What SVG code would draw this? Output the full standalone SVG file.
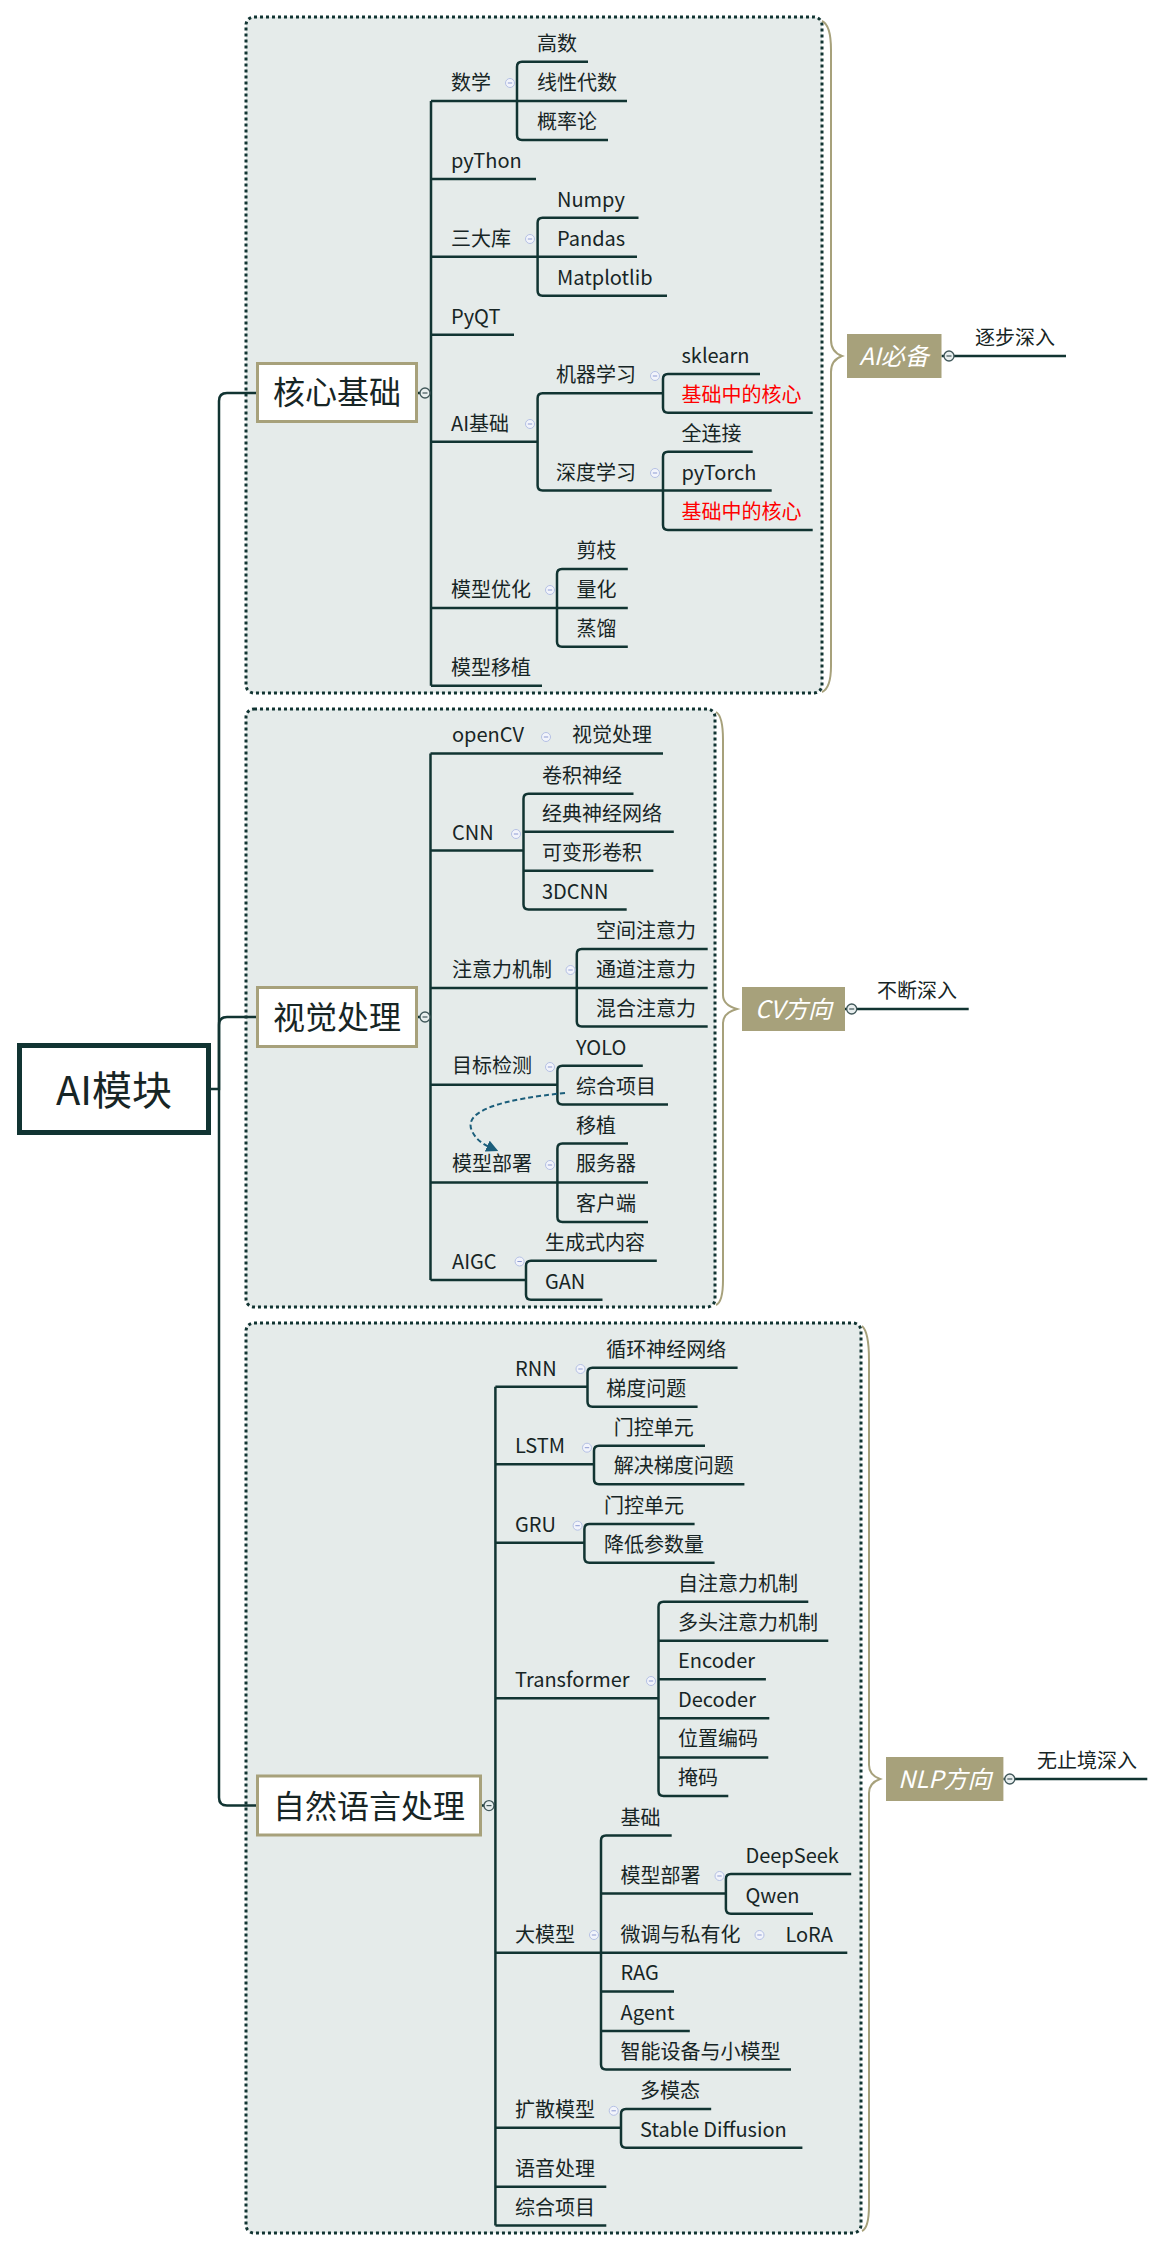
<svg xmlns="http://www.w3.org/2000/svg" xmlns:xlink="http://www.w3.org/1999/xlink" width="1165" height="2252" viewBox="0 0 1165 2252">
  <style>
    .area { fill: #e5ebea; stroke: #113432; stroke-width: 3; stroke-dasharray: 3 3; }
    .ln { fill: none; stroke: #113432; stroke-width: 2.5; }
    .brace { fill: none; stroke: #a7a17b; stroke-width: 2; }
    .t { font-family: "Noto Sans CJK SC", "Noto Sans", sans-serif; font-size: 20px; fill: #172525; }
    .red { fill: #ff0000; }
    .main { font-family: "Noto Sans CJK SC", "Noto Sans", sans-serif; font-size: 32px; fill: #172525; text-anchor: middle; }
    .mainbox { fill: #ffffff; stroke: #a7a17b; stroke-width: 3; }
    .tag { fill: #a7a17b; }
    .tagt { font-family: "Noto Sans CJK SC", "Noto Sans", sans-serif; font-size: 24px; font-style: italic; fill: #ffffff; text-anchor: middle; }
  </style>
  <defs>
    <g id="ml">
      <circle r="4.5" fill="#f2f4fb" stroke="#b4c0e4" stroke-width="1"/>
      <path d="M-2.2 0 H2.2" stroke="#8d9bd2" stroke-width="1"/>
    </g>
    <g id="md">
      <circle r="5" fill="#e8eeee" stroke="#41585a" stroke-width="1.3"/>
      <path d="M-2.5 0 H2.5" stroke="#41585a" stroke-width="1.2"/>
    </g>
    <marker id="arrow" viewBox="0 0 10 10" refX="8" refY="5" markerWidth="6" markerHeight="6" orient="auto" markerUnits="strokeWidth">
      <path d="M0 0 L10 5 L0 10 Z" fill="#1b5e7b"/>
    </marker>
  </defs>

  <!-- section backgrounds -->
  <rect class="area" x="246" y="17" width="576" height="676" rx="8"/>
  <rect class="area" x="246" y="709" width="469" height="598" rx="8"/>
  <rect class="area" x="246" y="1323" width="615" height="910" rx="8"/>

  <!-- braces -->
  <path class="brace" d="M822 21 Q831 25 831 50 L831 340 Q831 352 842 356 Q831 360 831 372 L831 666 Q831 688 822 692"/>
  <path class="brace" d="M716 712 Q723 716 723 740 L723 995 Q723 1005 737 1009 Q723 1013 723 1023 L723 1280 Q723 1302 716 1305"/>
  <path class="brace" d="M862 1326 Q869 1332 869 1360 L869 1765 Q869 1775 880 1779 Q869 1783 869 1793 L869 2205 Q869 2228 862 2231"/>

  <g id="connectors">
    <!-- root to main branches -->
    <path class="ln" d="M211 1089 H219 V401 Q219 393 227 393 H256"/>
    <path class="ln" d="M219 1089 V1025 Q219 1017 227 1017 H256"/>
    <path class="ln" d="M219 1089 V1797.6 Q219 1805.6 227 1805.6 H256"/>
    <path class="ln" d="M418 393 H431 M418 1017 H430.5 M482 1805.6 H495.4"/>

    <!-- 核心基础 -->
    <path class="ln" d="M431 101 V685.7"/>
    <path class="ln" d="M431 101 H627 M588 61.7 H522 Q517 61.7 517 66.7 V135 Q517 140 522 140 H608"/>
    <path class="ln" d="M431 179 H536"/>
    <path class="ln" d="M431 256.7 H637 M638.5 217.7 H542.6 Q537.6 217.7 537.6 222.7 V290.7 Q537.6 295.7 542.6 295.7 H667"/>
    <path class="ln" d="M431 334.7 H514"/>
    <path class="ln" d="M431 441.7 H537.6 M663 393.3 H542.6 Q537.6 393.3 537.6 398.3 V485.5 Q537.6 490.5 542.6 490.5 H663"/>
    <path class="ln" d="M760 374 H668 Q663 374 663 379 V407.7 Q663 412.7 668 412.7 H812.7"/>
    <path class="ln" d="M752.7 451.7 H668 Q663 451.7 663 456.7 V525 Q663 530 668 530 H812.7 M663 490.5 H771.7"/>
    <path class="ln" d="M431 608 H627.8 M627.8 569 H562 Q557 569 557 574 V641.7 Q557 646.7 562 646.7 H627.8"/>
    <path class="ln" d="M431 685.7 H542"/>

    <!-- 视觉处理 -->
    <path class="ln" d="M430.5 753.4 V1280"/>
    <path class="ln" d="M430.5 753.4 H663"/>
    <path class="ln" d="M430.5 850.6 H523.5 M633.5 793.7 H528.5 Q523.5 793.7 523.5 798.7 V904.6 Q523.5 909.6 528.5 909.6 H626.7 M523.5 831.7 H673.8 M523.5 870.8 H653.4"/>
    <path class="ln" d="M430.5 987.9 H707.7 M707.7 949 H581.8 Q576.8 949 576.8 954 V1021.6 Q576.8 1026.6 581.8 1026.6 H707.7"/>
    <path class="ln" d="M430.5 1084.8 H557.4 M642.8 1065.7 H562.4 Q557.4 1065.7 557.4 1070.7 V1099.5 Q557.4 1104.5 562.4 1104.5 H668"/>
    <path class="ln" d="M430.5 1182.4 H648 M628 1143.6 H562.4 Q557.4 1143.6 557.4 1148.6 V1217 Q557.4 1222 562.4 1222 H648"/>
    <path class="ln" d="M430.5 1280 H526 M656.8 1260.7 H531 Q526 1260.7 526 1265.7 V1294.8 Q526 1299.8 531 1299.8 H602.5"/>
    <path d="M565 1093 C505 1099 462 1110 472 1131 C477 1142 487 1146 496 1150" fill="none" stroke="#1b5e7b" stroke-width="2" stroke-dasharray="5 3" marker-end="url(#arrow)"/>

    <!-- 自然语言处理 -->
    <path class="ln" d="M495.4 1386.7 V2225.5"/>
    <path class="ln" d="M495.4 1386.7 H587.5 M737.6 1367.7 H592.5 Q587.5 1367.7 587.5 1372.7 V1401.7 Q587.5 1406.7 592.5 1406.7 H697.6"/>
    <path class="ln" d="M495.4 1464.3 H594 M705 1445.7 H599 Q594 1445.7 594 1450.7 V1479.3 Q594 1484.3 599 1484.3 H744.4"/>
    <path class="ln" d="M495.4 1542.7 H584.4 M694.6 1524 H589.4 Q584.4 1524 584.4 1529 V1557.7 Q584.4 1562.7 589.4 1562.7 H714.6"/>
    <path class="ln" d="M495.4 1698.3 H658.5 M808.3 1601.7 H663.5 Q658.5 1601.7 658.5 1606.7 V1791 Q658.5 1796 663.5 1796 H728.3 M658.5 1640.7 H828.3 M658.5 1679.3 H765.9 M658.5 1718.3 H769.3 M658.5 1757.4 H768.3"/>
    <path class="ln" d="M495.4 1952.7 H847.3 M671.7 1835.5 H606 Q601 1835.5 601 1840.5 V2064.6 Q601 2069.6 606 2069.6 H791 M601 1893.6 H725.9 M601 1991.4 H674 M601 2030.9 H689.8"/>
    <path class="ln" d="M851.2 1874 H730.9 Q725.9 1874 725.9 1879 V1908.7 Q725.9 1913.7 730.9 1913.7 H813"/>
    <path class="ln" d="M495.4 2127.7 H621 M711.2 2109 H626 Q621 2109 621 2114 V2142.7 Q621 2147.7 626 2147.7 H802.4"/>
    <path class="ln" d="M495.4 2186.8 H606.3 M495.4 2225.5 H606.3"/>

    <!-- summaries -->
    <path class="ln" d="M941.5 356 H1066"/>
    <path class="ln" d="M845 1009 H968.7"/>
    <path class="ln" d="M1003.4 1779 H1147.3"/>
  </g>

  <!-- root -->
  <g id="root">
    <rect x="19.5" y="1045.5" width="189" height="87" fill="#ffffff" stroke="#113432" stroke-width="5"/>
    <text x="114" y="1104.5" font-family="'Noto Sans CJK SC', 'Noto Sans', sans-serif" font-size="40" fill="#172525" text-anchor="middle">AI模块</text>
  </g>

  <!-- main branches -->
  <g id="n-core">
    <rect class="mainbox" x="257.5" y="363.5" width="159" height="58"/>
    <text class="main" x="337" y="404">核心基础</text>
  </g>
  <g id="n-cv">
    <rect class="mainbox" x="257.5" y="987.5" width="159" height="59"/>
    <text class="main" x="337" y="1028.5">视觉处理</text>
  </g>
  <g id="n-nlp">
    <rect class="mainbox" x="257.5" y="1776" width="223" height="59"/>
    <text class="main" x="369" y="1817.5">自然语言处理</text>
  </g>

  <!-- summaries -->
  <g id="s-ai">
    <rect class="tag" x="847" y="334" width="94.5" height="44"/>
    <text class="tagt" x="894" y="365">AI必备</text>
    <text class="t" x="975" y="345">逐步深入</text>
  </g>
  <g id="s-cv">
    <rect class="tag" x="742" y="987" width="103" height="44"/>
    <text class="tagt" x="793.5" y="1018">CV方向</text>
    <text class="t" x="877" y="998">不断深入</text>
  </g>
  <g id="s-nlp">
    <rect class="tag" x="886" y="1757" width="117.4" height="44"/>
    <text class="tagt" x="944.7" y="1788">NLP方向</text>
    <text class="t" x="1037" y="1768">无止境深入</text>
  </g>

  <!-- 核心基础 topics -->
  <g id="core-topics">
    <text class="t" x="451" y="90">数学</text>
    <text class="t" x="537" y="50.7">高数</text>
    <text class="t" x="537" y="90">线性代数</text>
    <text class="t" x="537" y="129">概率论</text>
    <text class="t" x="451" y="168">pyThon</text>
    <text class="t" x="451" y="245.7">三大库</text>
    <text class="t" x="557" y="206.7">Numpy</text>
    <text class="t" x="557" y="245.7">Pandas</text>
    <text class="t" x="557" y="284.7">Matplotlib</text>
    <text class="t" x="451" y="323.7">PyQT</text>
    <text class="t" x="451" y="430.7">AI基础</text>
    <text class="t" x="556" y="382.3">机器学习</text>
    <text class="t" x="681.5" y="363">sklearn</text>
    <text class="t red" x="681.5" y="401.7">基础中的核心</text>
    <text class="t" x="556" y="479.5">深度学习</text>
    <text class="t" x="681.5" y="440.7">全连接</text>
    <text class="t" x="681.5" y="479.5">pyTorch</text>
    <text class="t red" x="681.5" y="519">基础中的核心</text>
    <text class="t" x="451" y="597">模型优化</text>
    <text class="t" x="576.6" y="558">剪枝</text>
    <text class="t" x="576.6" y="597">量化</text>
    <text class="t" x="576.6" y="635.7">蒸馏</text>
    <text class="t" x="451" y="674.7">模型移植</text>
  </g>

  <!-- 视觉处理 topics -->
  <g id="cv-topics">
    <text class="t" x="452" y="742.4">openCV</text>
    <text class="t" x="572" y="742.4">视觉处理</text>
    <text class="t" x="452" y="839.6">CNN</text>
    <text class="t" x="542" y="782.7">卷积神经</text>
    <text class="t" x="542" y="820.7">经典神经网络</text>
    <text class="t" x="542" y="859.8">可变形卷积</text>
    <text class="t" x="542" y="898.6">3DCNN</text>
    <text class="t" x="452" y="976.9">注意力机制</text>
    <text class="t" x="596" y="938">空间注意力</text>
    <text class="t" x="596" y="976.9">通道注意力</text>
    <text class="t" x="596" y="1015.6">混合注意力</text>
    <text class="t" x="452" y="1073.3">目标检测</text>
    <text class="t" x="576" y="1054.7">YOLO</text>
    <text class="t" x="576" y="1093.5">综合项目</text>
    <text class="t" x="452" y="1171.4">模型部署</text>
    <text class="t" x="576" y="1132.6">移植</text>
    <text class="t" x="576" y="1171.4">服务器</text>
    <text class="t" x="576" y="1211">客户端</text>
    <text class="t" x="452" y="1269">AIGC</text>
    <text class="t" x="545" y="1249.7">生成式内容</text>
    <text class="t" x="545" y="1288.8">GAN</text>
  </g>

  <!-- 自然语言处理 topics -->
  <g id="nlp-topics">
    <text class="t" x="515" y="1375.7">RNN</text>
    <text class="t" x="606.3" y="1356.7">循环神经网络</text>
    <text class="t" x="606.3" y="1395.7">梯度问题</text>
    <text class="t" x="515" y="1453.3">LSTM</text>
    <text class="t" x="613.7" y="1434.7">门控单元</text>
    <text class="t" x="613.7" y="1473.3">解决梯度问题</text>
    <text class="t" x="515" y="1531.7">GRU</text>
    <text class="t" x="604" y="1513">门控单元</text>
    <text class="t" x="604" y="1551.7">降低参数量</text>
    <text class="t" x="515" y="1687.3">Transformer</text>
    <text class="t" x="678" y="1590.7">自注意力机制</text>
    <text class="t" x="678" y="1629.7">多头注意力机制</text>
    <text class="t" x="678" y="1668.3">Encoder</text>
    <text class="t" x="678" y="1707.3">Decoder</text>
    <text class="t" x="678" y="1746.4">位置编码</text>
    <text class="t" x="678" y="1785">掩码</text>
    <text class="t" x="515" y="1941.7">大模型</text>
    <text class="t" x="620.5" y="1824.5">基础</text>
    <text class="t" x="620.5" y="1882.6">模型部署</text>
    <text class="t" x="745.4" y="1863">DeepSeek</text>
    <text class="t" x="745.4" y="1902.7">Qwen</text>
    <text class="t" x="620.5" y="1941.7">微调与私有化</text>
    <text class="t" x="785.4" y="1941.7">LoRA</text>
    <text class="t" x="620.5" y="1980.4">RAG</text>
    <text class="t" x="620.5" y="2019.9">Agent</text>
    <text class="t" x="620.5" y="2058.6">智能设备与小模型</text>
    <text class="t" x="515" y="2116.7">扩散模型</text>
    <text class="t" x="640" y="2098">多模态</text>
    <text class="t" x="640" y="2136.7">Stable Diffusion</text>
    <text class="t" x="515" y="2175.8">语音处理</text>
    <text class="t" x="515" y="2214.5">综合项目</text>
  </g>

  <!-- collapse markers -->
  <g id="markers">
    <use xlink:href="#md" x="425" y="393"/>
    <use xlink:href="#md" x="425" y="1017"/>
    <use xlink:href="#md" x="489" y="1805.6"/>
    <use xlink:href="#md" x="949" y="356"/>
    <use xlink:href="#md" x="851.7" y="1009"/>
    <use xlink:href="#md" x="1009.8" y="1779"/>
    <use xlink:href="#ml" x="510" y="83"/>
    <use xlink:href="#ml" x="530" y="239"/>
    <use xlink:href="#ml" x="530" y="424"/>
    <use xlink:href="#ml" x="655" y="376"/>
    <use xlink:href="#ml" x="655" y="473"/>
    <use xlink:href="#ml" x="550" y="590"/>
    <use xlink:href="#ml" x="546" y="737"/>
    <use xlink:href="#ml" x="516" y="834"/>
    <use xlink:href="#ml" x="570.5" y="970"/>
    <use xlink:href="#ml" x="550" y="1067"/>
    <use xlink:href="#ml" x="550" y="1165"/>
    <use xlink:href="#ml" x="519.6" y="1261.5"/>
    <use xlink:href="#ml" x="580.5" y="1369"/>
    <use xlink:href="#ml" x="587" y="1447.7"/>
    <use xlink:href="#ml" x="577.6" y="1525.7"/>
    <use xlink:href="#ml" x="651" y="1681"/>
    <use xlink:href="#ml" x="594" y="1935"/>
    <use xlink:href="#ml" x="719.5" y="1876"/>
    <use xlink:href="#ml" x="759.5" y="1935"/>
    <use xlink:href="#ml" x="613.7" y="2110.8"/>
  </g>
</svg>
